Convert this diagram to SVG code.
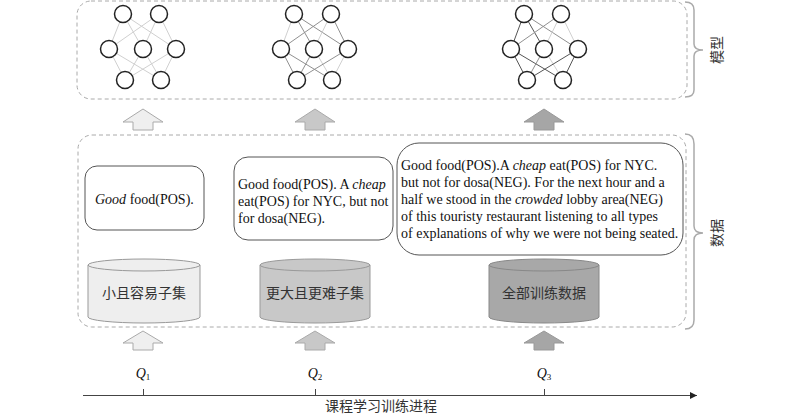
<svg xmlns="http://www.w3.org/2000/svg" width="800" height="416" viewBox="0 0 800 416">
<defs>
<style>
.dash{fill:none;stroke:#aaa;stroke-width:1;stroke-dasharray:4 3}
.brace{fill:none;stroke:#aaa;stroke-width:1.5}
.neu{fill:#fff;stroke:#222;stroke-width:1.5}
.e1{stroke:#d0d0d0;stroke-width:1}
.e2{stroke:#909090;stroke-width:1}
.e3{stroke:#555;stroke-width:1}
.tb{fill:#fff;stroke:#555;stroke-width:1}
.en{font-family:"Liberation Serif","Times New Roman",serif;font-size:14px;fill:#111}
.zh{font-family:"Noto Sans CJK SC",sans-serif;font-size:14px;fill:#333}
.ax{stroke:#444;stroke-width:1;fill:none}
</style>
<marker id="ah" markerWidth="8" markerHeight="8" refX="7" refY="4" orient="auto" markerUnits="userSpaceOnUse">
<path d="M0,0.5 L7,4 L0,7.5 Z" fill="#222"/>
</marker>
</defs>
<rect width="800" height="416" fill="#fff"/>

<g id="model-frame">
<rect class="dash" x="77" y="1" width="610" height="98" rx="14"/>
<path class="brace" d="M685,2 Q694,2 694,10 L694,44 Q694,50 703,50 Q694,50 694,56 L694,90 Q694,97 685,97"/>
<text class="zh" transform="translate(722,50) rotate(-90)" text-anchor="middle">模型</text>
</g>

<g id="data-frame">
<rect class="dash" x="78" y="135" width="608" height="192" rx="14"/>
<path class="brace" d="M685,134 Q694,134 694,144 L694,226 Q694,233 703,233 Q694,233 694,240 L694,320 Q694,329 685,329"/>
<text class="zh" transform="translate(722,233) rotate(-90)" text-anchor="middle">数据</text>
</g>

<g id="net1">
<g class="e1">
<line x1="123" y1="14" x2="109" y2="49"/><line x1="123" y1="14" x2="143" y2="49"/><line x1="123" y1="14" x2="176" y2="49"/>
<line x1="159" y1="14" x2="109" y2="49"/><line x1="159" y1="14" x2="143" y2="49"/><line x1="159" y1="14" x2="176" y2="49"/>
<line x1="109" y1="49" x2="125" y2="80"/><line x1="109" y1="49" x2="161" y2="80"/>
<line x1="143" y1="49" x2="125" y2="80"/><line x1="143" y1="49" x2="161" y2="80"/>
<line x1="176" y1="49" x2="125" y2="80"/><line x1="176" y1="49" x2="161" y2="80"/>
</g>
<circle class="neu" cx="123" cy="14" r="8.5"/><circle class="neu" cx="159" cy="14" r="8.5"/>
<circle class="neu" cx="109" cy="49" r="8.5"/><circle class="neu" cx="143" cy="49" r="8.5"/><circle class="neu" cx="176" cy="49" r="8.5"/>
<circle class="neu" cx="125" cy="80" r="8.5"/><circle class="neu" cx="161" cy="80" r="8.5"/>
</g>

<g id="net2">
<line class="e1" x1="294" y1="14" x2="281" y2="49"/><line class="e2" x1="294" y1="14" x2="314" y2="49"/><line class="e2" x1="294" y1="14" x2="348" y2="49"/>
<line class="e2" x1="331" y1="14" x2="281" y2="49"/><line class="e1" x1="331" y1="14" x2="314" y2="49"/><line class="e2" x1="331" y1="14" x2="348" y2="49"/>
<line class="e2" x1="281" y1="49" x2="297" y2="80"/><line class="e2" x1="281" y1="49" x2="332" y2="80"/>
<line class="e2" x1="314" y1="49" x2="297" y2="80"/><line class="e1" x1="314" y1="49" x2="332" y2="80"/>
<line class="e2" x1="348" y1="49" x2="297" y2="80"/><line class="e1" x1="348" y1="49" x2="332" y2="80"/>
<circle class="neu" cx="294" cy="14" r="8.5"/><circle class="neu" cx="331" cy="14" r="8.5"/>
<circle class="neu" cx="281" cy="49" r="8.5"/><circle class="neu" cx="314" cy="49" r="8.5"/><circle class="neu" cx="348" cy="49" r="8.5"/>
<circle class="neu" cx="297" cy="80" r="8.5"/><circle class="neu" cx="332" cy="80" r="8.5"/>
</g>

<g id="net3">
<line class="e3" x1="524" y1="14" x2="511" y2="49"/><line class="e3" x1="524" y1="14" x2="544" y2="49"/><line class="e2" x1="524" y1="14" x2="578" y2="49"/>
<line class="e2" x1="561" y1="14" x2="511" y2="49"/><line class="e1" x1="561" y1="14" x2="544" y2="49"/><line class="e1" x1="561" y1="14" x2="578" y2="49"/>
<line class="e3" x1="511" y1="49" x2="527" y2="80"/><line class="e3" x1="511" y1="49" x2="563" y2="80"/>
<line class="e2" x1="544" y1="49" x2="527" y2="80"/><line class="e1" x1="544" y1="49" x2="563" y2="80"/>
<line class="e3" x1="578" y1="49" x2="527" y2="80"/><line class="e3" x1="578" y1="49" x2="563" y2="80"/>
<circle class="neu" cx="524" cy="14" r="8.5"/><circle class="neu" cx="561" cy="14" r="8.5"/>
<circle class="neu" cx="511" cy="49" r="8.5"/><circle class="neu" cx="544" cy="49" r="8.5"/><circle class="neu" cx="578" cy="49" r="8.5"/>
<circle class="neu" cx="527" cy="80" r="8.5"/><circle class="neu" cx="563" cy="80" r="8.5"/>
</g>

<g id="arrows">
<path d="M143,109 L163,122 L153,122 L153,130 L133,130 L133,122 L123,122 Z" fill="#efefef" stroke="#aaa"/>
<path d="M315,109 L335,122 L325,122 L325,130 L305,130 L305,122 L295,122 Z" fill="#c8c8c8" stroke="#aaa"/>
<path d="M544,109 L564,122 L554,122 L554,130 L534,130 L534,122 L524,122 Z" fill="#a6a6a6" stroke="#999"/>
<path d="M143,331 L163,343 L153,343 L153,350 L133,350 L133,343 L123,343 Z" fill="#efefef" stroke="#aaa"/>
<path d="M315,331 L335,343 L325,343 L325,350 L305,350 L305,343 L295,343 Z" fill="#c8c8c8" stroke="#aaa"/>
<path d="M544,331 L564,343 L554,343 L554,350 L534,350 L534,343 L524,343 Z" fill="#a6a6a6" stroke="#999"/>
</g>

<g id="text1">
<rect class="tb" x="85" y="166" width="119" height="64" rx="12"/>
<text class="en" x="95" y="204"><tspan font-style="italic">Good</tspan> food(POS).</text>
</g>

<g id="text2">
<rect class="tb" x="234" y="157" width="159" height="83" rx="14"/>
<text class="en" x="238" y="189">Good food(POS). A <tspan font-style="italic">cheap</tspan></text>
<text class="en" x="238" y="206">eat(POS) for NYC, but not</text>
<text class="en" x="238" y="223">for dosa(NEG).</text>
</g>

<g id="text3">
<rect class="tb" x="397" y="143" width="286" height="112" rx="22"/>
<text class="en" x="401" y="170">Good food(POS).A <tspan font-style="italic">cheap</tspan> eat(POS) for NYC.</text>
<text class="en" x="401" y="187">but not for dosa(NEG). For the next hour and a</text>
<text class="en" x="401" y="204">half we stood in the <tspan font-style="italic">crowded</tspan> lobby area(NEG)</text>
<text class="en" x="401" y="221">of this touristy restaurant listening to all types</text>
<text class="en" x="401" y="238">of explanations of why we were not being seated.</text>
</g>

<g id="cyl1">
<path d="M88,265 L88,317 A56,6 0 0 0 200,317 L200,265" fill="#eeeeee" stroke="#999"/>
<ellipse cx="144" cy="265" rx="56" ry="6" fill="#eeeeee" stroke="#999"/>
<text class="zh" x="144" y="298" text-anchor="middle">小且容易子集</text>
</g>
<g id="cyl2">
<path d="M260,265 L260,317 A55,6 0 0 0 370,317 L370,265" fill="#c8c8c8" stroke="#999"/>
<ellipse cx="315" cy="265" rx="55" ry="6" fill="#c8c8c8" stroke="#999"/>
<text class="zh" x="315" y="298" text-anchor="middle">更大且更难子集</text>
</g>
<g id="cyl3">
<path d="M489,265 L489,317 A55,6 0 0 0 599,317 L599,265" fill="#a8a8a8" stroke="#888"/>
<ellipse cx="544" cy="265" rx="55" ry="6" fill="#a8a8a8" stroke="#888"/>
<text class="zh" x="544" y="298" text-anchor="middle">全部训练数据</text>
</g>

<g id="axis">
<line class="ax" x1="83" y1="395.5" x2="697" y2="395.5" marker-end="url(#ah)"/>
<line class="ax" x1="143.5" y1="389" x2="143.5" y2="395.5"/>
<line class="ax" x1="315.5" y1="389" x2="315.5" y2="395.5"/>
<line class="ax" x1="544.5" y1="389" x2="544.5" y2="395.5"/>
<text class="en" x="143" y="378" text-anchor="middle" fill="#222"><tspan font-style="italic">Q</tspan><tspan font-size="9" dy="2">1</tspan></text>
<text class="en" x="315" y="378" text-anchor="middle" fill="#222"><tspan font-style="italic">Q</tspan><tspan font-size="9" dy="2">2</tspan></text>
<text class="en" x="544" y="378" text-anchor="middle" fill="#222"><tspan font-style="italic">Q</tspan><tspan font-size="9" dy="2">3</tspan></text>
<text class="zh" x="381" y="411" font-size="13.5" text-anchor="middle">课程学习训练进程</text>
</g>
</svg>
